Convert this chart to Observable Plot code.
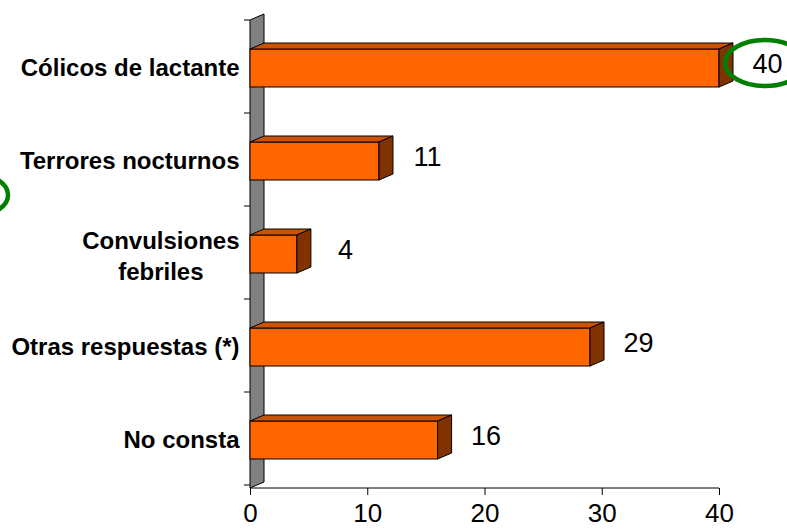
<!DOCTYPE html>
<html>
<head>
<meta charset="utf-8">
<script src="https://cdn.jsdelivr.net/npm/d3@7"></script>
<script src="https://cdn.jsdelivr.net/npm/@observablehq/plot@0.6"></script>
<style>
  html, body { margin: 0; padding: 0; background: #fff; }
  #chart svg { display: block; }
</style>
</head>
<body>
<div id="chart"></div>
<script>
// Respuestas por categoría (número de casos)
const categories = [
  "Cólicos de lactante",
  "Terrores nocturnos",
  "Convulsiones\nfebriles",
  "Otras respuestas (*)",
  "No consta"
];
const values = [40, 11, 4, 29, 16];
const xTicks = [0, 10, 20, 30, 40];
const highlighted = "Cólicos de lactante";

const rows = categories.map((category, i) => ({category, value: values[i]}));

const FONT = "Arial, 'Liberation Sans', sans-serif";
const FRONT = "#FF6600", TOP = "#CC5200", SIDE = "#803300", WALL = "#808080";
const DX = 14, DY = -6; // depth of the 3D extrusion

// gray back wall with band separator ticks and the value axis baseline
function wall(index, {x, y}) {
  const [r0, r1] = y.range();
  const x0 = x(0);
  const g = d3.create("svg:g");
  g.append("path")
    .attr("fill", WALL).attr("stroke", "#000").attr("stroke-linejoin", "round")
    .attr("d", `M${x0},${r0}L${x0 + DX},${r0 + DY}L${x0 + DX},${r1 + DY}L${x0},${r1}Z`);
  const step = y.step();
  for (let i = 0; i <= y.domain().length; i++) {
    const yy = r0 + i * step;
    g.append("line").attr("stroke", "#000")
      .attr("x1", x0 - 6).attr("x2", x0).attr("y1", yy).attr("y2", yy);
  }
  const [d0, d1] = x.domain();
  g.append("line").attr("stroke", "#000")
    .attr("x1", x(d0)).attr("x2", x(d1)).attr("y1", r1).attr("y2", r1);
  return g.node();
}

// top and side faces of each bar
function faces(index, {x, y}) {
  const bw = y.bandwidth();
  const g = d3.create("svg:g").attr("stroke", "#000").attr("stroke-linejoin", "round");
  for (const d of rows) {
    const x0 = x(0), x1 = x(d.value), t = y(d.category), b = t + bw;
    g.append("path").attr("fill", TOP)
      .attr("d", `M${x0},${t}L${x1},${t}L${x1 + DX},${t + DY}L${x0 + DX},${t + DY}Z`);
    g.append("path").attr("fill", SIDE)
      .attr("d", `M${x1},${t}L${x1 + DX},${t + DY}L${x1 + DX},${b + DY}L${x1},${b}Z`);
  }
  return g.node();
}

// green hand-drawn style ellipses
function ellipses(index, {x, y}) {
  const bw = y.bandwidth();
  const g = d3.create("svg:g").attr("fill", "none").attr("stroke", "#008000").attr("stroke-width", 4.5);
  const d = rows.find(r => r.category === highlighted);
  g.append("ellipse")
    .attr("cx", x(d.value) + 46).attr("cy", y(d.category) + bw / 2 - 5)
    .attr("rx", 40).attr("ry", 23);
  g.append("ellipse")
    .attr("cx", -25).attr("cy", y(categories[1]) + bw / 2 + 34)
    .attr("rx", 33).attr("ry", 21);
  return g.node();
}

// category labels: single-line labels right-aligned, multi-line centred on their widest line
const ctx = document.createElement("canvas").getContext("2d");
ctx.font = `bold 24px ${FONT}`;
const single = rows.filter(d => !d.category.includes("\n"));
const multi = rows.filter(d => d.category.includes("\n"));
const multiMarks = multi.map(d => {
  const w = d3.max(d.category.split("\n"), s => ctx.measureText(s).width);
  return Plot.text([d], {
    x: () => 0, y: "category", text: "category",
    textAnchor: "middle", dx: -(11 + w / 2), lineHeight: 1.3,
    fontSize: 24, fontWeight: "bold", fill: "#000"
  });
});

const chart = Plot.plot({
  width: 787,
  height: 529,
  marginLeft: 250,
  marginRight: 68,
  marginTop: 20,
  marginBottom: 41,
  style: {fontFamily: FONT, fontSize: "26px", background: "#fff", color: "#000"},
  x: {domain: [0, 40], ticks: xTicks, tickSize: 7, tickPadding: 8, label: null, tickFormat: d => String(d)},
  y: {domain: categories, paddingInner: 0.594, paddingOuter: 0.297, axis: null},
  marks: [
    wall,
    Plot.barX(rows, {x1: 0, x2: "value", y: "category", fill: FRONT, stroke: "#000", strokeWidth: 1}),
    faces,
    Plot.text(rows, {x: "value", y: "category", text: d => String(d.value),
      textAnchor: "middle", dx: 48, dy: -4, fontSize: 27, fill: "#000"}),
    Plot.text(single, {x: () => 0, y: "category", text: "category",
      textAnchor: "end", dx: -11, fontSize: 24, fontWeight: "bold", fill: "#000"}),
    ...multiMarks,
    ellipses
  ]
});

document.getElementById("chart").appendChild(chart);
</script>
</body>
</html>
